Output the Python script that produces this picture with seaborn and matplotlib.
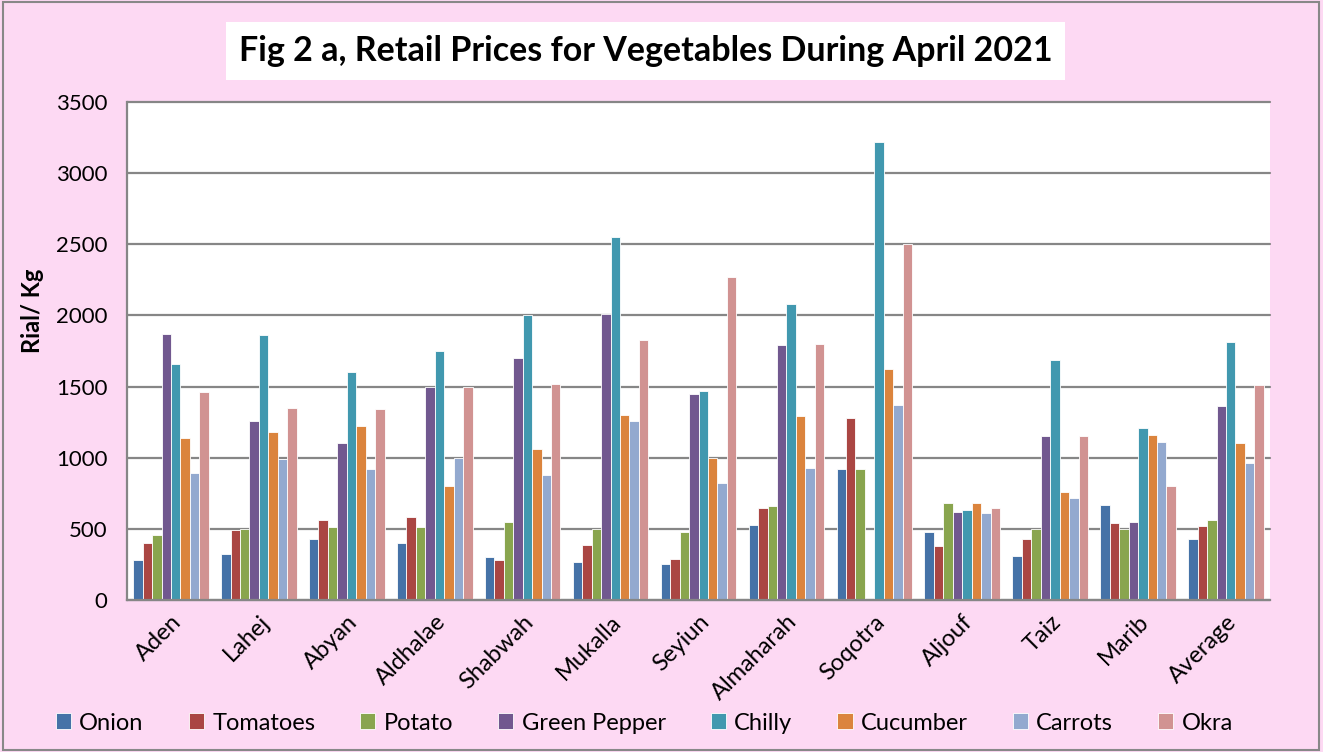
import matplotlib
matplotlib.use("Agg")
import matplotlib.pyplot as plt
import seaborn as sns
import pandas as pd
import numpy as np
from matplotlib.patches import Rectangle

regions = ["Aden", "Lahej", "Abyan", "Aldhalae", "Shabwah", "Mukalla", "Seyiun",
           "Almaharah", "Soqotra", "Aljouf", "Taiz", "Marib", "Average"]
onion = [280, 320, 430, 400, 300, 270, 250, 530, 920, 480, 310, 670, 430]
tomatoes = [400, 490, 560, 580, 280, 390, 290, 650, 1280, 380, 430, 540, 520]
potato = [460, 500, 510, 510, 545, 500, 480, 660, 920, 680, 500, 500, 560]
green_pepper = [1870, 1260, 1100, 1500, 1700, 2010, 1450, 1790, 0, 620, 1150, 550, 1360]
chilly = [1660, 1860, 1600, 1750, 2000, 2550, 1470, 2080, 3220, 630, 1690, 1210, 1810]
cucumber = [1140, 1180, 1220, 800, 1060, 1300, 1000, 1290, 1620, 680, 760, 1160, 1100]
carrots = [890, 990, 920, 1000, 880, 1260, 820, 930, 1370, 610, 720, 1110, 960]
okra = [1460, 1350, 1340, 1500, 1520, 1830, 2270, 1800, 2500, 650, 1150, 800, 1510]

series_names = ["Onion", "Tomatoes", "Potato", "Green Pepper", "Chilly", "Cucumber", "Carrots", "Okra"]
series_vals = [onion, tomatoes, potato, green_pepper, chilly, cucumber, carrots, okra]
colors = ["#4572A7", "#AA4643", "#89A54E", "#71588F", "#4198AF", "#DB843D", "#93A9CF", "#D19392"]

rows = []
for name, vals in zip(series_names, series_vals):
    for r, v in zip(regions, vals):
        rows.append({"Region": r, "Vegetable": name, "Price": v})
df = pd.DataFrame(rows)

sns.set_style("white")
plt.rcParams['font.family'] = ['Lato', 'DejaVu Sans']
plt.rcParams['text.color'] = 'black'
plt.rcParams['axes.labelcolor'] = 'black'
plt.rcParams['xtick.labelcolor'] = 'black'
plt.rcParams['ytick.labelcolor'] = 'black'

bg = "#FDD9F3"
fig = plt.figure(figsize=(13.23, 7.52), dpi=100, facecolor=bg)
ax = fig.add_axes([127/1323, 1 - 600/752, (1270-127)/1323, (600-102)/752])
ax.set_facecolor("white")

sns.barplot(data=df, x="Region", y="Price", hue="Vegetable", order=regions,
            hue_order=series_names, palette=colors, width=0.86, ax=ax,
            edgecolor="white", linewidth=0.6, saturation=1, legend=True)

ax.set_ylim(0, 3500)
ax.set_xlim(-0.5, len(regions) - 0.5)
ax.set_yticks(np.arange(0, 3501, 500))
ax.yaxis.grid(True, color="#868686", linewidth=1.6)
for gl in ax.get_ygridlines():
    gl.set_clip_on(False)
ax.set_axisbelow(True)
for s in ["top", "right"]:
    ax.spines[s].set_visible(False)
for s in ["left", "bottom"]:
    ax.spines[s].set_color("#868686")
    ax.spines[s].set_linewidth(1.6)

ax.tick_params(axis="y", which="major", length=8, width=1.6, color="#868686",
               labelsize=16, pad=6, labelcolor="black")
ax.tick_params(axis="x", which="major", length=0, labelsize=17, pad=8, labelcolor="black")
ax.set_xticks(np.arange(-0.5, len(regions)), minor=True)
ax.tick_params(axis="x", which="minor", length=8, width=1.6, color="#868686")
plt.setp(ax.get_xticklabels(), rotation=45, ha="right", rotation_mode="anchor")
ax.set_xlabel("")
ax.set_ylabel("Rial/ Kg", fontsize=17, fontweight="bold", color="black")
ax.yaxis.set_label_coords(-0.073, 0.58)

leg = ax.legend(loc="center", bbox_to_anchor=(0.487, (752 - 723) / 752), bbox_transform=fig.transFigure,
                ncol=8, frameon=False, fontsize=17, handlelength=0.65, handleheight=0.65,
                handletextpad=0.35, columnspacing=1.9)
for t in leg.get_texts():
    t.set_color("black")

fig.text(0.488, 1 - 51/752, "Fig 2 a, Retail Prices for Vegetables During April 2021",
         ha="center", va="center", fontsize=24.5, fontweight="bold", color="black",
         bbox=dict(facecolor="white", edgecolor="none", pad=9))

fig.patches.append(Rectangle((0.002, 0.003), 0.995, 0.994, transform=fig.transFigure,
                             fill=False, edgecolor="#888888", linewidth=1.5))

fig.savefig("out.png", dpi=100, facecolor=bg)
